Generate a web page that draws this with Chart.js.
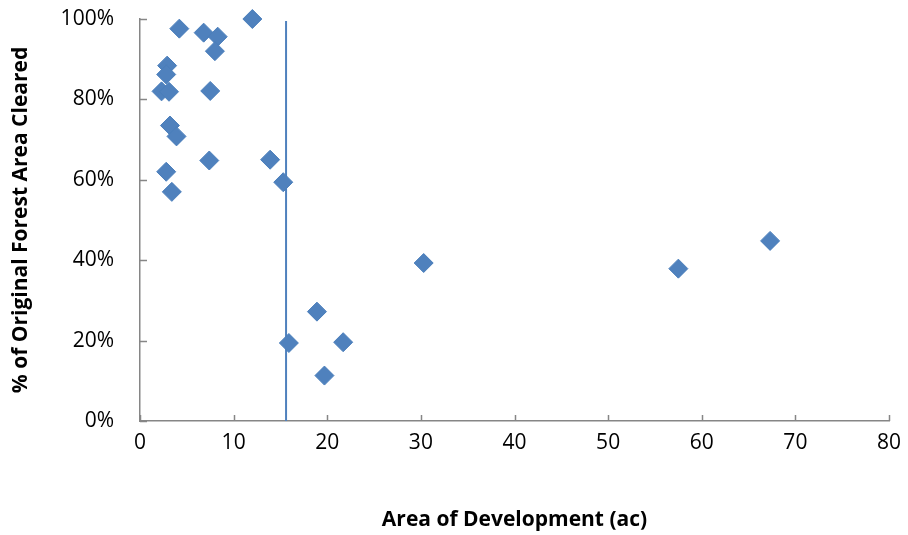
<!DOCTYPE html>
<html>
<head>
<meta charset="utf-8">
<script src="https://cdn.jsdelivr.net/npm/chart.js@4/dist/chart.umd.min.js"></script>
<style>
  html, body { margin: 0; padding: 0; background: #fff; }
  #wrap { width: 908px; height: 535px; }
</style>
</head>
<body>
<div id="wrap"><canvas id="forestChart"></canvas></div>
<script>
// Development sites: area (ac) vs share of original forest cleared (%)
const devArea = [12.0, 4.2, 6.8, 8.3, 8.0, 2.9, 2.8, 2.3, 3.1, 7.5, 3.2, 3.9, 7.4, 13.9, 2.8, 15.3, 3.4,
                 30.3, 18.9, 15.9, 21.7, 19.7, 57.5, 67.3];
const pctCleared = [100, 97.6, 96.6, 95.6, 92.0, 88.4, 86.2, 82.0, 81.9, 82.1, 73.5, 70.8, 64.8, 65.0, 62.0, 59.4, 57.0,
                    39.3, 27.2, 19.4, 19.6, 11.3, 37.9, 44.8];
// vertical reference line
const thresholdArea = 15.6;
const thresholdSpan = [0, 99.5];

const xTicks = [0, 10, 20, 30, 40, 50, 60, 70, 80];
const yTicks = [0, 20, 40, 60, 80, 100];

const blue = "#4f81bd";
const axisGrey = "#868686";

// Excel-style tick marks pointing into the plot
const insideTicks = {
  id: "insideTicks",
  afterDraw(chart) {
    const { ctx, scales: { x, y } } = chart;
    ctx.save();
    ctx.strokeStyle = axisGrey;
    ctx.lineWidth = 1.5;
    ctx.beginPath();
    xTicks.forEach(v => {
      const px = Math.round(x.getPixelForValue(v)) + 0.5;
      ctx.moveTo(px, y.bottom);
      ctx.lineTo(px, y.bottom - 6);
    });
    yTicks.forEach(v => {
      const py = Math.round(y.getPixelForValue(v)) + 0.5;
      ctx.moveTo(x.left, py);
      ctx.lineTo(x.left + 7, py);
    });
    ctx.stroke();
    ctx.restore();
  }
};

const points = devArea.map((a, i) => ({ x: a, y: pctCleared[i] }));
const line = thresholdSpan.map(v => ({ x: thresholdArea, y: v }));

const ctx = document.getElementById("forestChart").getContext("2d");
new Chart(ctx, {
  type: "scatter",
  data: {
    datasets: [{
      label: "Sites",
      data: points,
      pointStyle: "rectRot",
      pointRadius: 9.5,
      pointHoverRadius: 9.5,
      backgroundColor: blue,
      borderColor: "#4a7ebb",
      borderWidth: 1,
      clip: false,
      order: 1
    }, {
      label: "Threshold",
      type: "line",
      data: line,
      borderColor: blue,
      borderWidth: 2,
      pointRadius: 0,
      fill: false,
      order: 2
    }]
  },
  options: {
    responsive: true,
    maintainAspectRatio: false,
    animation: false,
    layout: { padding: { left: 0, top: 19, right: 19, bottom: 0 } },
    plugins: {
      legend: { display: false },
      tooltip: { enabled: false }
    },
    scales: {
      x: {
        type: "linear",
        min: 0,
        max: 80,
        afterBuildTicks: s => { s.ticks = xTicks.map(v => ({ value: v })); },
        afterFit: s => { s.height = 114; s.paddingLeft = 0; s.paddingRight = 0; },
        grid: { display: true, drawOnChartArea: false, drawTicks: false },
        border: { color: axisGrey, width: 1.5 },
        ticks: {
          padding: 9,
          color: "#000",
          font: { family: "Open Sans", size: 21 }
        },
        title: {
          display: true,
          text: "Area of Development (ac)",
          color: "#000",
          font: { family: "Open Sans", size: 21, weight: "bold" },
          padding: { top: 0, bottom: 2 }
        }
      },
      y: {
        type: "linear",
        min: 0,
        max: 100,
        afterBuildTicks: s => { s.ticks = yTicks.map(v => ({ value: v })); },
        afterFit: s => { s.width = 140; s.paddingTop = 0; s.paddingBottom = 0; },
        grid: { display: true, drawOnChartArea: false, drawTicks: false },
        border: { color: axisGrey, width: 1.5 },
        ticks: {
          padding: 26,
          color: "#000",
          font: { family: "Open Sans", size: 21 },
          callback: v => v + "%"
        },
        title: {
          display: true,
          text: "% of Original Forest Area Cleared",
          color: "#000",
          font: { family: "Open Sans", size: 21, weight: "bold" },
          padding: { top: 8, bottom: 0 }
        }
      }
    }
  },
  plugins: [insideTicks]
});
</script>
</body>
</html>
